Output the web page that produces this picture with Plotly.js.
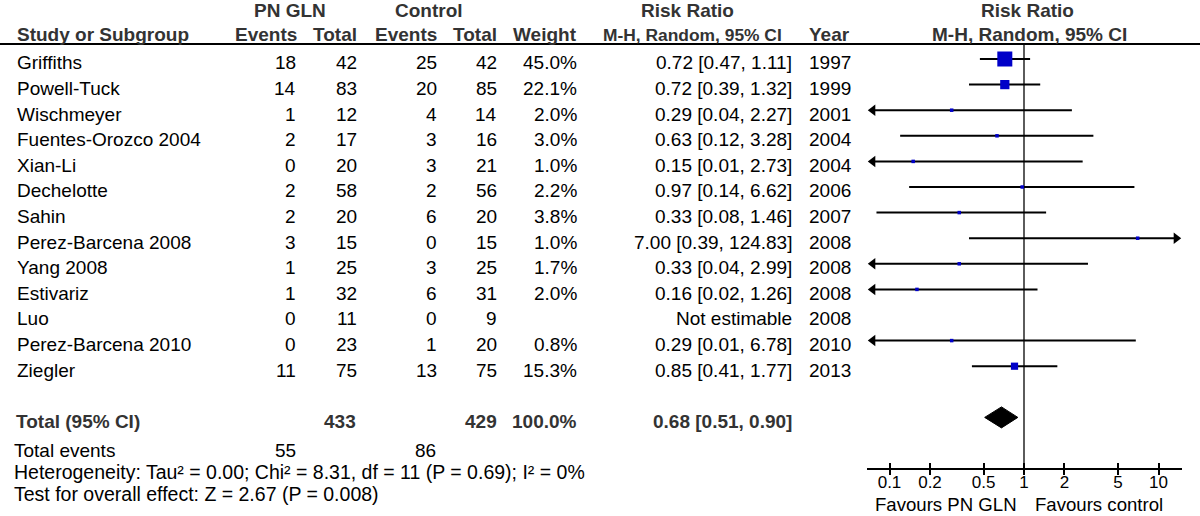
<!DOCTYPE html>
<html><head><meta charset="utf-8">
<script src="https://cdn.plot.ly/plotly-3.0.1.min.js"></script>
<style>html,body{margin:0;padding:0;background:#fff}#chart{width:1200px;height:516px}</style>
</head><body><div id="chart"></div>
<script>
// ---- data ----
const studies = ["Griffiths","Powell-Tuck","Wischmeyer","Fuentes-Orozco 2004","Xian-Li","Dechelotte","Sahin","Perez-Barcena 2008","Yang 2008","Estivariz","Luo","Perez-Barcena 2010","Ziegler"];
const glnEvents = [18,14,1,2,0,2,2,3,1,1,0,0,11];
const glnTotal = [42,83,12,17,20,58,20,15,25,32,11,23,75];
const ctrlEvents = [25,20,4,3,3,2,6,0,3,6,0,1,13];
const ctrlTotal = [42,85,14,16,21,56,20,15,25,31,9,20,75];
const weights = [45.0,22.1,2.0,3.0,1.0,2.2,3.8,1.0,1.7,2.0,null,0.8,15.3];
const rr = [0.72,0.72,0.29,0.63,0.15,0.97,0.33,7.00,0.33,0.16,null,0.29,0.85];
const ciLow = [0.47,0.39,0.04,0.12,0.01,0.14,0.08,0.39,0.04,0.02,null,0.01,0.41];
const ciHigh = [1.11,1.32,2.27,3.28,2.73,6.62,1.46,124.83,2.99,1.26,null,6.78,1.77];
const years = [1997,1999,2001,2004,2004,2006,2007,2008,2008,2008,2008,2010,2013];
const totalGln = 433, totalCtrl = 429, totalWeight = 100.0;
const totalRR = 0.68, totalLow = 0.51, totalHigh = 0.90;
const totalEventsGln = 55, totalEventsCtrl = 86;
const heterogeneityText = "Heterogeneity: Tau² = 0.00; Chi² = 8.31, df = 11 (P = 0.69); I² = 0%";
const overallText = "Test for overall effect: Z = 2.67 (P = 0.008)";
const tickVals = [0.1,0.2,0.5,1,2,5,10];
const tickLabels = ["0.1","0.2","0.5","1","2","5","10"];

// ---- geometry ----
const W = 1200, H = 516;
const ROW0 = 59, ROWH = 25.6;
const X = px => px / W;
const PY = px => 1 - px / H;
const rowOf = px => (px - ROW0) / ROWH;
const AX_L = 867, AX_R = 1182, ONE = 1024, DEC = 134.5;
const xr = [(AX_L - ONE) / DEC, (AX_R - ONE) / DEC];
const xmin = Math.pow(10, xr[0]), xmax = Math.pow(10, xr[1]);
const FONT = "Liberation Sans, Arial, sans-serif";
const TXT = "#000", HDR = "#333";
const TOTAL_ROW = 14;

const fmt1 = v => v.toFixed(1) + "%";
const fmt2 = v => v.toFixed(2);
const ciText = (e, l, h) => fmt2(e) + " [" + fmt2(l) + ", " + fmt2(h) + "]";

const annotations = [];
function ann(text, xpx, y, anchor, opts) {
  opts = opts || {};
  annotations.push({
    text: text, x: X(xpx), xref: "paper", xanchor: anchor,
    y: y, yref: opts.yref || "paper", yanchor: opts.yanchor || "middle",
    showarrow: false, borderpad: 0,
    font: {family: FONT, size: opts.size || 19, color: opts.color || TXT, weight: opts.bold ? "bold" : "normal"}
  });
}

// headers
ann("PN GLN", 290, PY(10), "center", {bold: true, color: HDR});
ann("Control", 429, PY(10), "center", {bold: true, color: HDR});
ann("Risk Ratio", 687, PY(10), "center", {bold: true, color: HDR});
ann("Risk Ratio", 1027, PY(10), "center", {bold: true, color: HDR});
ann("Study or Subgroup", 16, PY(34.5), "left", {bold: true, color: HDR});
ann("Events", 298, PY(34.5), "right", {bold: true, color: HDR});
ann("Total", 358, PY(34.5), "right", {bold: true, color: HDR});
ann("Events", 438, PY(34.5), "right", {bold: true, color: HDR});
ann("Total", 498, PY(34.5), "right", {bold: true, color: HDR});
ann("Weight", 578, PY(34.5), "right", {bold: true, color: HDR});
ann("M-H, Random, 95% CI", 783, PY(34.5), "right", {bold: true, color: HDR, size: 17.4});
ann("Year", 808, PY(34.5), "left", {bold: true, color: HDR});
ann("M-H, Random, 95% CI", 1029, PY(34.5), "center", {bold: true, color: HDR});

// body rows
const TOFF = 0.15;
studies.forEach((s, i) => {
  const y = i + TOFF;
  ann(s, 16, y, "left", {yref: "y"});
  ann(String(glnEvents[i]), 297, y, "right", {yref: "y"});
  ann(String(glnTotal[i]), 358, y, "right", {yref: "y"});
  ann(String(ctrlEvents[i]), 438, y, "right", {yref: "y"});
  ann(String(ctrlTotal[i]), 498, y, "right", {yref: "y"});
  if (weights[i] != null) ann(fmt1(weights[i]), 578, y, "right", {yref: "y"});
  ann(rr[i] == null ? "Not estimable" : ciText(rr[i], ciLow[i], ciHigh[i]), 793, y, "right", {yref: "y"});
  ann(String(years[i]), 808, y, "left", {yref: "y"});
});

// totals
ann("Total (95% CI)", 15, PY(421), "left", {bold: true, color: HDR});
ann(String(totalGln), 357, PY(421), "right", {bold: true, color: HDR});
ann(String(totalCtrl), 498, PY(421), "right", {bold: true, color: HDR});
ann(fmt1(totalWeight), 578, PY(421), "right", {bold: true, color: HDR});
ann(ciText(totalRR, totalLow, totalHigh), 793, PY(421), "right", {bold: true, color: HDR});
ann("Total events", 13, PY(450), "left");
ann(String(totalEventsGln), 297, PY(450), "right");
ann(String(totalEventsCtrl), 437, PY(450), "right");
ann(heterogeneityText, 13, PY(472), "left", {size: 19.5});
ann(overallText, 13, PY(494), "left", {size: 19.5});
ann("Favours PN GLN", 1018, PY(516), "right", {yanchor: "bottom", size: 18.6});
ann("Favours control", 1034, PY(516), "left", {yanchor: "bottom", size: 18.6});

// ---- forest traces ----
const lx = [], ly = [];
const leftArrX = [], leftArrY = [], rightArrX = [], rightArrY = [];
const arrowShift = Math.pow(10, 5.8 / DEC);
studies.forEach((s, i) => {
  if (rr[i] == null) return;
  let a = ciLow[i], b = ciHigh[i];
  if (a < xmin) { a = xmin * arrowShift; leftArrX.push(a); leftArrY.push(i); }
  if (b > xmax) { b = xmax / arrowShift; rightArrX.push(b); rightArrY.push(i); }
  lx.push(a, b, null); ly.push(i, i, null);
});
const sqX = [], sqY = [], sqS = [];
studies.forEach((s, i) => {
  if (rr[i] == null) return;
  sqX.push(rr[i]); sqY.push(i);
  sqS.push(Math.max(3.5, 15 * Math.pow(weights[i] / 45, 0.68)));
});
const dH = 0.41;

const traces = [
  {x: [1, 1], y: [rowOf(44), rowOf(469)], mode: "lines", line: {color: "#333", width: 1.6}, hoverinfo: "skip"},
  {x: lx, y: ly, mode: "lines", line: {color: "#000", width: 2}, hoverinfo: "skip"},
  {x: leftArrX, y: leftArrY, mode: "markers", marker: {symbol: "triangle-left", size: 10, color: "#000", opacity: 1}, cliponaxis: false, hoverinfo: "skip"},
  {x: rightArrX, y: rightArrY, mode: "markers", marker: {symbol: "triangle-right", size: 10, color: "#000", opacity: 1}, cliponaxis: false, hoverinfo: "skip"},
  {x: sqX, y: sqY, mode: "markers", marker: {symbol: "square", size: sqS, color: "#0000c8", opacity: 1, line: {width: 0}}, hoverinfo: "skip"},
  {x: [totalLow, totalRR, totalHigh, totalRR, totalLow], y: [TOTAL_ROW, TOTAL_ROW - dH, TOTAL_ROW, TOTAL_ROW + dH, TOTAL_ROW],
   mode: "lines", fill: "toself", fillcolor: "#000", line: {color: "#000", width: 1}, hoverinfo: "skip"},
  {x: [1], y: [0], xaxis: "x2", mode: "markers", marker: {opacity: 0}, hoverinfo: "skip"}
];

const axBase = {
  type: "log", domain: [X(AX_L), X(AX_R)], range: xr, anchor: "free", position: PY(469),
  tickvals: tickVals, ticktext: tickLabels, showgrid: false, zeroline: false, automargin: false, fixedrange: true
};
const layout = {
  width: W, height: H, margin: {l: 0, r: 0, t: 0, b: 0, pad: 0},
  paper_bgcolor: "#fff", plot_bgcolor: "rgba(0,0,0,0)", showlegend: false,
  xaxis: Object.assign({}, axBase, {
    showline: true, linecolor: "#000", linewidth: 2,
    ticks: "inside", ticklen: 5, tickwidth: 2, tickcolor: "#000", ticklabelstandoff: -2,
    tickfont: {family: FONT, size: 17, color: "#000"}
  }),
  xaxis2: Object.assign({}, axBase, {
    overlaying: "x", showline: false, ticks: "outside", ticklen: 5, tickwidth: 2, tickcolor: "#000",
    showticklabels: false
  }),
  yaxis: {domain: [0, 1], range: [rowOf(H), rowOf(0)], visible: false, fixedrange: true},
  shapes: [
    {type: "line", xref: "paper", yref: "paper", x0: 0, x1: 1, y0: PY(44), y1: PY(44), line: {color: "#000", width: 2}}
  ],
  annotations: annotations
};
Plotly.newPlot("chart", traces, layout, {staticPlot: true, displayModeBar: false});
</script></body></html>
